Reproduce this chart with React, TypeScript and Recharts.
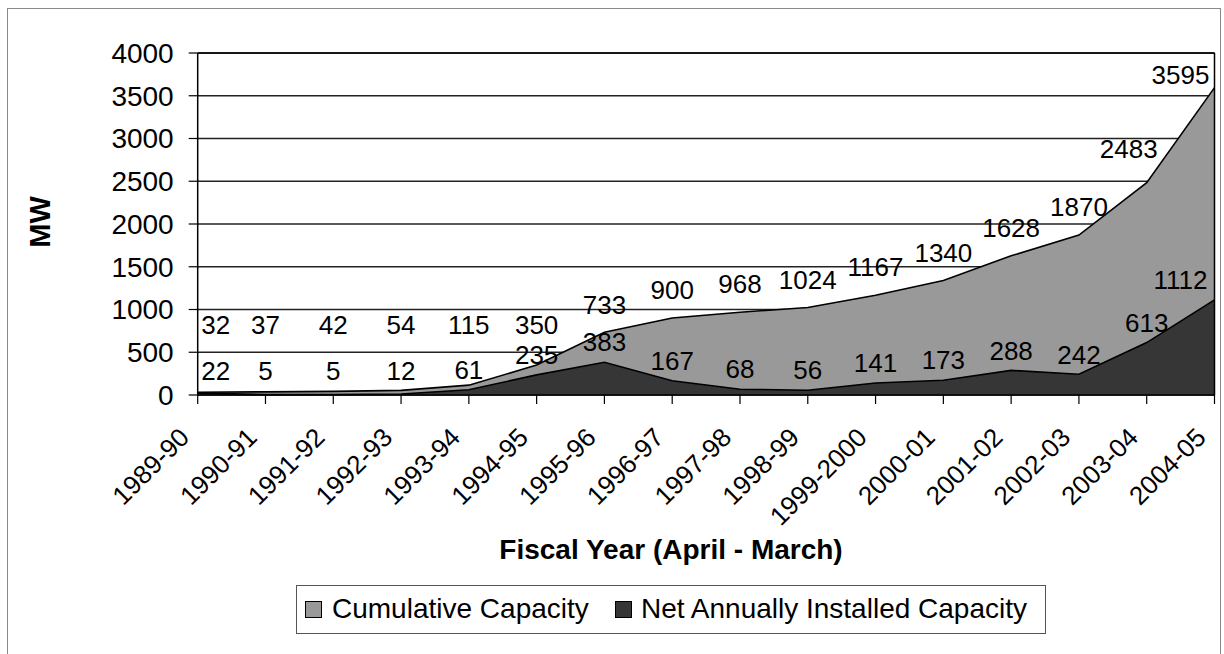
import React from 'react';
import {
  AreaChart,
  Area,
  XAxis,
  YAxis,
  CartesianGrid,
  LabelList,
  ReferenceLine,
} from 'recharts';

// Fiscal years (April - March)
const YEARS = [
  '1989-90', '1990-91', '1991-92', '1992-93', '1993-94', '1994-95',
  '1995-96', '1996-97', '1997-98', '1998-99', '1999-2000', '2000-01',
  '2001-02', '2002-03', '2003-04', '2004-05',
];

// Cumulative installed capacity, MW
const CUMULATIVE = [32, 37, 42, 54, 115, 350, 733, 900, 968, 1024, 1167, 1340, 1628, 1870, 2483, 3595];

// Capacity added in each year, MW
const NET_ANNUAL = [22, 5, 5, 12, 61, 235, 383, 167, 68, 56, 141, 173, 288, 242, 613, 1112];

const Y_TICKS = [0, 500, 1000, 1500, 2000, 2500, 3000, 3500, 4000];

const SERIES_NAMES = ['Cumulative Capacity', 'Net Annually Installed Capacity'];

const data = YEARS.map((year, i) => ({
  year,
  cumulative: CUMULATIVE[i],
  net: NET_ANNUAL[i],
}));

const FONT = '"Liberation Sans", Arial, Helvetica, sans-serif';
const W = 1224;
const H = 654;

const PLOT_LEFT = 197.7;
const PLOT_RIGHT = 1214.5;
const PLOT_TOP = 53;
const PLOT_BOTTOM = 395;

const CUM_FILL = '#999999';
const NET_FILL = '#363636';

// Value labels sit a little above their point, kept inside the plot frame;
// where the series climbs steeply to the next year the label steps left
// so it stays clear of the outline.
const makeValueLabel = (values: number[], lift: number, lowest: number) => (props: any) => {
  const px = props.x ?? props.viewBox?.x ?? 0;
  const py = props.y ?? props.viewBox?.y ?? 0;
  const i = props.index ?? 0;
  const next = values[i + 1];
  const steep = next !== undefined && next - values[i] > 1000;
  const cx = Math.min(Math.max(px - (steep ? 18 : 0), PLOT_LEFT + 18), PLOT_RIGHT - 34);
  let cy = Math.min(py - lift - (steep ? 6 : 0), lowest);
  cy = Math.max(cy, PLOT_TOP + 22);
  return (
    <text
      x={cx}
      y={cy}
      dy="0.355em"
      textAnchor="middle"
      fontFamily={FONT}
      fontSize={26}
      fill="#000"
    >
      {props.value}
    </text>
  );
};

const XTick = (props: any) => {
  const { x, y, payload } = props;
  return (
    <g transform={`translate(${x - 7},${y + 33}) rotate(-45)`}>
      <text textAnchor="end" fontFamily={FONT} fontSize={26} fill="#000">
        {payload.value}
      </text>
    </g>
  );
};

export default function App() {
  const xAxisHeight = 60;
  return (
    <div
      style={{
        position: 'absolute',
        left: 0,
        top: 0,
        width: W,
        height: H,
        background: '#fff',
        overflow: 'hidden',
        fontFamily: FONT,
      }}
    >
      {/* outer frame */}
      <div
        style={{
          position: 'absolute',
          left: 7,
          top: 8,
          width: 1214,
          height: 700,
          border: '1.5px solid #8a8a8a',
          boxSizing: 'border-box',
        }}
      />
      <div style={{ position: 'absolute', left: 0, top: 0 }}>
        <AreaChart
          width={W}
          height={H}
          data={data}
          margin={{
            top: PLOT_TOP,
            right: W - PLOT_RIGHT,
            left: PLOT_LEFT - 100,
            bottom: H - PLOT_BOTTOM - xAxisHeight,
          }}
        >
          <CartesianGrid vertical={false} stroke="#222" strokeWidth={1.3} />
          <XAxis
            dataKey="year"
            interval={0}
            height={xAxisHeight}
            tickSize={9}
            tick={<XTick />}
            axisLine={{ stroke: '#000', strokeWidth: 1.5 }}
            tickLine={{ stroke: '#000', strokeWidth: 1.2 }}
          />
          <YAxis
            width={100}
            domain={[0, 4000]}
            ticks={Y_TICKS}
            interval={0}
            tickSize={9}
            tickMargin={15}
            tick={{ fontSize: 28, fill: '#000', fontFamily: FONT }}
            axisLine={{ stroke: '#000', strokeWidth: 1.5 }}
            tickLine={{ stroke: '#000', strokeWidth: 1.2 }}
          />
          <Area
            type="linear"
            dataKey="cumulative"
            name={SERIES_NAMES[0]}
            stroke="#000"
            strokeWidth={1.6}
            fill={CUM_FILL}
            fillOpacity={1}
            isAnimationActive={false}
          >
            <LabelList
              dataKey="cumulative"
              content={makeValueLabel(CUMULATIVE, 28, PLOT_BOTTOM - 70)}
            />
          </Area>
          <Area
            type="linear"
            dataKey="net"
            name={SERIES_NAMES[1]}
            stroke="#000"
            strokeWidth={1.6}
            fill={NET_FILL}
            fillOpacity={1}
            isAnimationActive={false}
          >
            <LabelList
              dataKey="net"
              content={makeValueLabel(NET_ANNUAL, 20, PLOT_BOTTOM - 24)}
            />
          </Area>
          <ReferenceLine x={YEARS[YEARS.length - 1]} stroke="#000" strokeWidth={1.5} />
          <ReferenceLine y={4000} stroke="#000" strokeWidth={1.5} />
        </AreaChart>
      </div>

      {/* axis titles */}
      <svg
        width={W}
        height={H}
        style={{ position: 'absolute', left: 0, top: 0, pointerEvents: 'none' }}
      >
        <text
          transform="translate(50,222) rotate(-90)"
          textAnchor="middle"
          fontFamily={FONT}
          fontWeight="bold"
          fontSize={29}
          fill="#000"
        >
          MW
        </text>
        <text
          x={671}
          y={559}
          textAnchor="middle"
          fontFamily={FONT}
          fontWeight="bold"
          fontSize={28}
          fill="#000"
        >
          Fiscal Year (April - March)
        </text>
      </svg>

      {/* legend */}
      <div
        style={{
          position: 'absolute',
          left: 296,
          top: 585,
          width: 750,
          height: 49,
          border: '1px solid #555',
          boxSizing: 'border-box',
          background: '#fff',
        }}
      >
        {[CUM_FILL, NET_FILL].map((color, i) => (
          <React.Fragment key={SERIES_NAMES[i]}>
            <div
              style={{
                position: 'absolute',
                left: i === 0 ? 8 : 318,
                top: 15,
                width: 17,
                height: 17,
                background: color,
                border: '1.5px solid #000',
                boxSizing: 'border-box',
              }}
            />
            <div
              style={{
                position: 'absolute',
                left: i === 0 ? 35 : 344,
                top: 6,
                fontSize: 28,
                lineHeight: '34px',
                whiteSpace: 'nowrap',
                color: '#000',
              }}
            >
              {SERIES_NAMES[i]}
            </div>
          </React.Fragment>
        ))}
      </div>
    </div>
  );
}
